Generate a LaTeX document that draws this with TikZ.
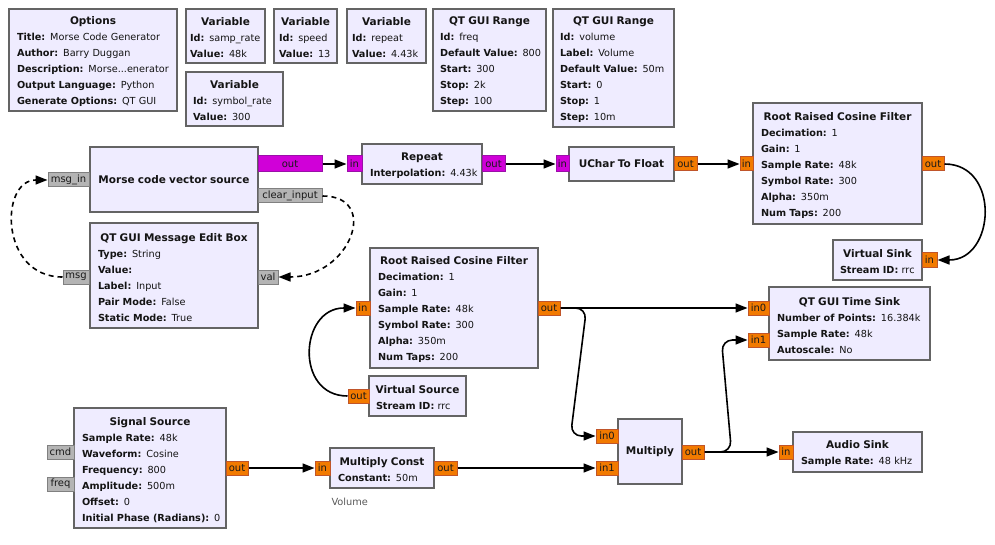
\documentclass[tikz,border=0pt]{standalone}
\usepackage{fontspec}
\setmainfont{DejaVu Sans}
\usetikzlibrary{arrows.meta,calc}
\definecolor{blkfill}{HTML}{EFECFF}
\definecolor{blkline}{HTML}{646464}
\definecolor{orfill}{HTML}{F27A00}
\definecolor{orline}{HTML}{C0552A}
\definecolor{mgfill}{HTML}{D000D8}
\definecolor{mgline}{HTML}{9A10A8}
\definecolor{gyfill}{HTML}{B4B4B4}
\definecolor{gyline}{HTML}{808080}
\newcommand\ttl[1]{\makebox[\linewidth]{\fontsize{10.5}{16}\selectfont\bfseries #1}}
\newcommand\kv[2]{\mbox{\textbf{#1:} #2}}
\tikzset{
  blk/.style={draw=blkline, fill=blkfill, line width=2pt, rectangle, inner xsep=8pt, inner ysep=0pt,
    align=left, text=black!92, font=\fontsize{9.7}{16}\selectfont},
  mblk/.style={blk, text height=11.5pt},
  port/.style={draw, line width=1pt, rectangle, inner sep=0pt, minimum height=14pt, text=black!90,
    font=\fontsize{10}{11}\selectfont},
  orp/.style={port, fill=orfill, draw=orline},
  mgp/.style={port, fill=mgfill, draw=mgline, minimum height=16pt},
  gyp/.style={port, fill=gyfill, draw=gyline},
  conn/.style={line width=1.6pt, -{Triangle[length=12pt,width=9pt]}},
  msgconn/.style={conn, dash pattern=on 5pt off 4pt},
}
\begin{document}
\begin{tikzpicture}[x=1pt,y=-1pt]
\useasboundingbox (0,0) rectangle (995,545);
% ---------- blocks ----------
\node[mblk, minimum width=168, minimum height=102, text width=152] (opts) at (93,60)
  {\ttl{Options}\\\kv{Title}{Morse Code Generator}\\\kv{Author}{Barry Duggan}\\\kv{Description}{Morse...enerator}\\\kv{Output Language}{Python}\\\kv{Generate Options}{QT GUI}};
\node[mblk, minimum width=79, minimum height=54, text width=71, inner xsep=4pt] (var1) at (225.5,36)
  {\ttl{Variable}\\\kv{Id}{samp\_rate}\\\kv{Value}{48k}};
\node[mblk, minimum width=63, minimum height=54, text width=53, inner xsep=5pt] (var2) at (305.5,36)
  {\ttl{Variable}\\\kv{Id}{speed}\\\kv{Value}{13}};
\node[mblk, minimum width=97, minimum height=54, text width=83, inner xsep=7pt] (var3) at (234.5,99)
  {\ttl{Variable}\\\kv{Id}{symbol\_rate}\\\kv{Value}{300}};
\node[mblk, minimum width=79, minimum height=54, text width=69, inner xsep=5pt] (var4) at (386.5,36)
  {\ttl{Variable}\\\kv{Id}{repeat}\\\kv{Value}{4.43k}};
\node[mblk, minimum width=113, minimum height=102, text width=99, inner xsep=7pt] (rng1) at (489.5,60)
  {\ttl{QT GUI Range}\\\kv{Id}{freq}\\\kv{Default Value}{800}\\\kv{Start}{300}\\\kv{Stop}{2k}\\\kv{Step}{100}};
\node[mblk, minimum width=121, minimum height=118, text width=107, inner xsep=7pt] (rng2) at (613.5,68)
  {\ttl{QT GUI Range}\\\kv{Id}{volume}\\\kv{Label}{Volume}\\\kv{Default Value}{50m}\\\kv{Start}{0}\\\kv{Stop}{1}\\\kv{Step}{10m}};
\node[blk, minimum width=168, minimum height=65, text width=152] (mvs) at (174,179.5)
  {\ttl{Morse code vector source}};
\node[mblk, minimum width=168, minimum height=105, text width=152] (medit) at (174,275.5)
  {\ttl{QT GUI Message Edit Box}\\\kv{Type}{String}\\\kv{Value}{}\\\kv{Label}{Input}\\\kv{Pair Mode}{False}\\\kv{Static Mode}{True}};
\node[mblk, minimum width=120, minimum height=40, text width=104] (rep) at (422,164)
  {\ttl{Repeat}\\\kv{Interpolation}{4.43k}};
\node[blk, minimum width=105, minimum height=34, text width=89] (u2f) at (621.5,164)
  {\ttl{UChar To Float}};
\node[mblk, minimum width=169, minimum height=121, text width=153] (rrc1) at (837.5,163.5)
  {\ttl{Root Raised Cosine Filter}\\\kv{Decimation}{1}\\\kv{Gain}{1}\\\kv{Sample Rate}{48k}\\\kv{Symbol Rate}{300}\\\kv{Alpha}{350m}\\\kv{Num Taps}{200}};
\node[mblk, minimum width=89, minimum height=40, text width=75, inner xsep=7pt] (vsink) at (877.5,260)
  {\ttl{Virtual Sink}\\\kv{Stream ID}{rrc}};
\node[mblk, minimum width=168, minimum height=120, text width=152] (rrc2) at (454,308)
  {\ttl{Root Raised Cosine Filter}\\\kv{Decimation}{1}\\\kv{Gain}{1}\\\kv{Sample Rate}{48k}\\\kv{Symbol Rate}{300}\\\kv{Alpha}{350m}\\\kv{Num Taps}{200}};
\node[mblk, minimum width=97, minimum height=40, text width=83, inner xsep=7pt] (vsrc) at (417.5,396)
  {\ttl{Virtual Source}\\\kv{Stream ID}{rrc}};
\node[mblk, minimum width=152, minimum height=120, text width=136] (sig) at (150,468)
  {\ttl{Signal Source}\\\kv{Sample Rate}{48k}\\\kv{Waveform}{Cosine}\\\kv{Frequency}{800}\\\kv{Amplitude}{500m}\\\kv{Offset}{0}\\\kv{Initial Phase (Radians)}{0}};
\node[mblk, minimum width=104, minimum height=40, text width=88] (mc) at (382,468)
  {\ttl{Multiply Const}\\\kv{Constant}{50m}};
\node[text=black!65, anchor=west, font=\fontsize{9.8}{11}\selectfont] (mclabel) at (328,502) {Volume};
\node[blk, minimum width=64, minimum height=65, text width=48] (mul) at (650,451.5)
  {\ttl{Multiply}};
\node[mblk, minimum width=161, minimum height=73, text width=145] (tsink) at (849.5,323.5)
  {\ttl{QT GUI Time Sink}\\\kv{Number of Points}{16.384k}\\\kv{Sample Rate}{48k}\\\kv{Autoscale}{No}};
\node[mblk, minimum width=129, minimum height=40, text width=113] (asink) at (857.5,452)
  {\ttl{Audio Sink}\\\kv{Sample Rate}{48 kHz}};
% ---------- ports ----------
\node[mgp, minimum width=64] (mvsout) at (290,164) {out};
\node[gyp, minimum width=41] (mvsmsgin) at (68.5,180) {msg\_in};
\node[gyp, minimum width=64] (mvsclear) at (290,196) {clear\_input};
\node[gyp, minimum width=26] (medmsg) at (76,277) {msg};
\node[gyp, minimum width=20] (medval) at (268,277) {val};
\node[mgp, minimum width=15] (repin) at (354.5,164) {in};
\node[mgp, minimum width=23] (repout) at (493.5,164) {out};
\node[mgp, minimum width=13] (u2fin) at (562.5,164) {in};
\node[orp, minimum width=23] (u2fout) at (685.5,164) {out};
\node[orp, minimum width=13] (rrc1in) at (746.5,164) {in};
\node[orp, minimum width=22] (rrc1out) at (933,164) {out};
\node[orp, minimum width=15] (vsinkin) at (929.5,260) {in};
\node[orp, minimum width=14] (rrc2in) at (363,308) {in};
\node[orp, minimum width=22] (rrc2out) at (549,308) {out};
\node[orp, minimum width=21] (vsrcout) at (358.5,396) {out};
\node[gyp, minimum width=27] (sigcmd) at (60.5,452) {cmd};
\node[gyp, minimum width=27] (sigfreq) at (60.5,484) {freq};
\node[orp, minimum width=22] (sigout) at (237,468) {out};
\node[orp, minimum width=15] (mcin) at (322.5,468) {in};
\node[orp, minimum width=23] (mcout) at (445.5,468) {out};
\node[orp, minimum width=22] (mulin0) at (607,436) {in0};
\node[orp, minimum width=22] (mulin1) at (607,468) {in1};
\node[orp, minimum width=22] (mulout) at (693,452) {out};
\node[orp, minimum width=21] (tsin0) at (758.5,308) {in0};
\node[orp, minimum width=21] (tsin1) at (758.5,340) {in1};
\node[orp, minimum width=14] (asin) at (786,452) {in};
% ---------- connections ----------
\draw[conn] (mvsout.east) -- (repin.west);
\draw[conn] (repout.east) -- (u2fin.west);
\draw[conn] (u2fout.east) -- (rrc1in.west);
\draw[conn] (rrc1out.east) .. controls +(56,0) and +(58,0) .. (vsinkin.east);
\draw[conn] (vsrcout.west) .. controls +(-53,0) and +(-56,0) .. (rrc2in.west);
\draw[conn] (rrc2out.east) -- (tsin0.west);
\draw[conn, rounded corners=11pt] (rrc2out.east) -- ++(26,0) -- ($(mulin0.west)+(-25,0)$) -- (mulin0.west);
\draw[conn] (sigout.east) -- (mcin.west);
\draw[conn] (mcout.east) -- (mulin1.west);
\draw[conn, rounded corners=11pt] (mulout.east) -- ++(27,0) -- ($(tsin1.west)+(-26,0)$) -- (tsin1.west);
\draw[conn] (mulout.east) -- (asin.west);
\draw[msgconn] (mvsclear.east) .. controls +(58,0) and +(72,0) .. (medval.east);
\draw[msgconn] (medmsg.west) .. controls +(-63,0) and +(-48,0) .. (mvsmsgin.west);
\end{tikzpicture}
\end{document}
